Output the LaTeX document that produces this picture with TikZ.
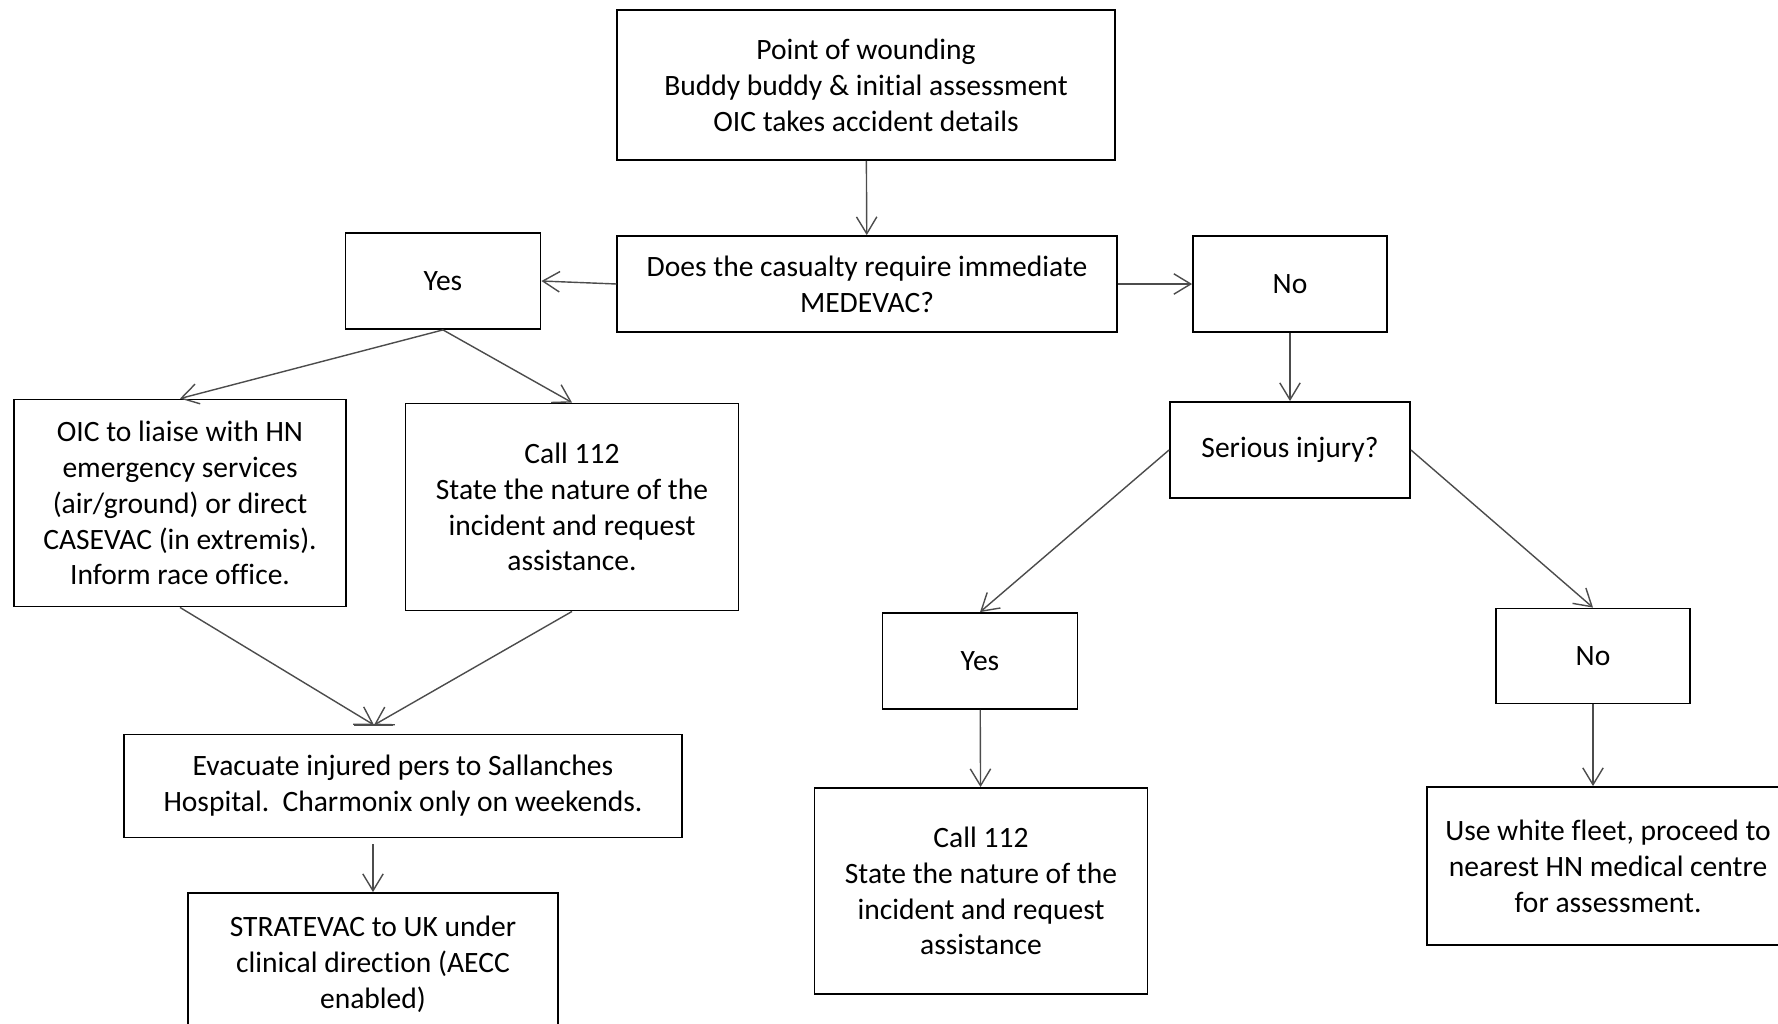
\documentclass[tikz,border=0pt]{standalone}
\usepackage{fontspec}
\setmainfont{Carlito}[Ligatures=NoCommon]
\usetikzlibrary{arrows.meta}

\begin{document}
\begin{tikzpicture}[
    x=0.01cm, y=-0.01cm,
    box/.style={rectangle, draw=black, line width=0.5pt, align=center,
        inner sep=2pt, font=\fontsize{8.4}{10.2}\selectfont},
    arrow/.style={draw=black!70, line width=0.4pt,
        -{Straight Barb[length=4.8pt, width=5.8pt, line width=0.4pt]}}
]
    \useasboundingbox (0,0) rectangle (1778,1024);
    \clip (0,0) rectangle (1778,1024);

    % top of the flow
    \node[box, minimum width=4.97cm, minimum height=1.50cm] (pow) at (866,85)
        {Point of wounding\\Buddy buddy \& initial assessment\\OIC takes accident details};
    \node[box, minimum width=4.99cm, minimum height=0.96cm] (medevac) at (867,284)
        {Does the casualty require immediate\\MEDEVAC?};
    \node[box, minimum width=1.95cm, minimum height=0.96cm] (yesA) at (443,281) {Yes};
    \node[box, minimum width=1.94cm, minimum height=0.96cm] (noA) at (1290,284) {No};

    % left branch
    \node[box, minimum width=3.32cm, minimum height=2.07cm] (oic) at (180,503)
        {OIC to liaise with HN\\emergency services\\(air/ground) or direct\\CASEVAC (in extremis).\\Inform race office.};
    \node[box, minimum width=3.33cm, minimum height=2.07cm] (callA) at (572,507)
        {Call 112\\State the nature of the\\incident and request\\assistance.};
    \node[box, minimum width=5.57cm, minimum height=1.03cm] (evac) at (403,786)
        {Evacuate injured pers to Sallanches\\Hospital.\ \ Charmonix only on weekends.};
    \node[box, minimum width=3.70cm, minimum height=1.42cm] (strat) at (373,964)
        {STRATEVAC to UK under\\clinical direction (AECC\\enabled)};

    % right branch
    \node[box, minimum width=2.40cm, minimum height=0.96cm] (serious) at (1290,450) {Serious injury?};
    \node[box, minimum width=1.95cm, minimum height=0.96cm] (yesB) at (980,661) {Yes};
    \node[box, minimum width=1.94cm, minimum height=0.95cm] (noB) at (1593,656) {No};
    \node[box, minimum width=3.33cm, minimum height=2.06cm] (callB) at (981,891)
        {Call 112\\State the nature of the\\incident and request\\assistance};
    \node[box, minimum width=3.62cm, minimum height=1.58cm] (fleet) at (1608,866)
        {Use white fleet, proceed to\\nearest HN medical centre\\for assessment.};

    \coordinate (merge) at (374,725);

    \draw[arrow] (pow) -- (medevac);
    \draw[arrow] (medevac.west) -- (yesA.east);
    \draw[arrow] (medevac.east) -- (noA.west);
    \draw[arrow] (yesA.south) -- (oic.north);
    \draw[arrow] (yesA.south) -- (callA.north);
    \draw[arrow] (oic.south) -- (merge);
    \draw[arrow] (callA.south) -- (merge);
    \draw[draw=black!70, line width=0.4pt] ([xshift=-0.2cm]merge) -- ([xshift=0.19cm]merge);
    \draw[arrow, shorten <=0.06cm] (strat.north |- evac.south) -- (strat.north);
    \draw[arrow] (noA) -- (serious);
    \draw[arrow] (serious.west) -- (yesB.north);
    \draw[arrow] (serious.east) -- (noB.north);
    \draw[arrow] (yesB) -- (callB);
    \draw[arrow] (noB.south) -- (noB.south |- fleet.north);
\end{tikzpicture}
\end{document}
